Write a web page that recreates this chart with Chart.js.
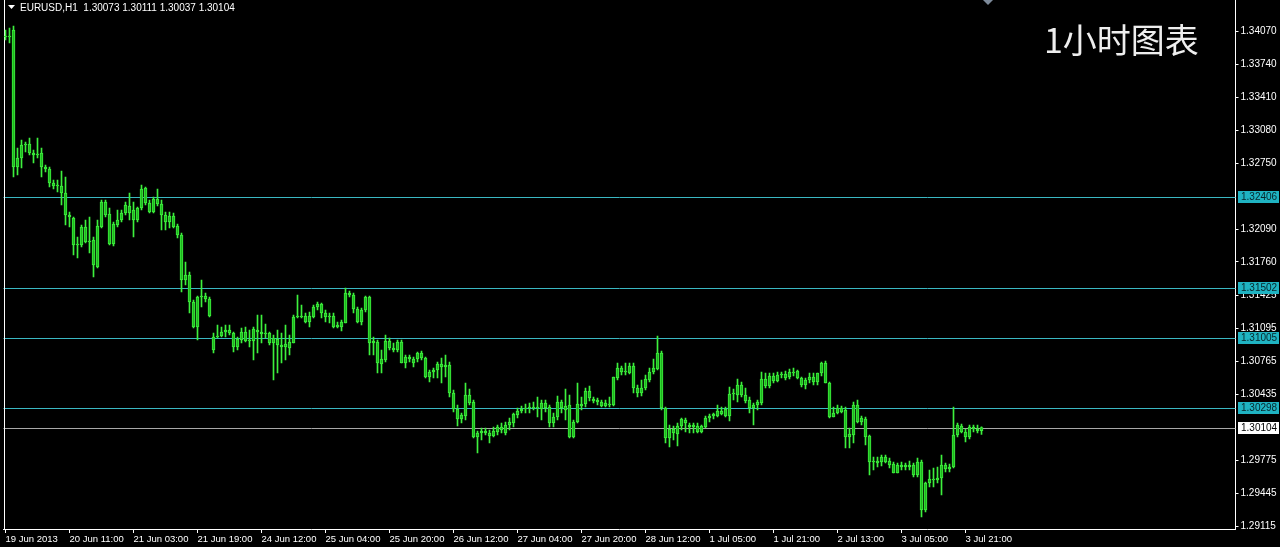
<!DOCTYPE html>
<html>
<head>
<meta charset="utf-8">
<style>
  html, body { margin: 0; padding: 0; background: #000; overflow: hidden; }
  canvas { display: block; }
</style>
<script src="https://cdn.jsdelivr.net/npm/chart.js@4.4.1/dist/chart.umd.min.js"></script>
</head>
<body>
<canvas id="chart" width="1280" height="547"></canvas>
<script>
'use strict';

//
// EURUSD H1 candles, 19 Jun 2013 19:00 .. 4 Jul 2013 01:00
//

var opens = [
  1.3402,1.3401,1.3408,1.3271,1.3280,1.3293,1.3294,1.3285,1.3283,1.3285,
  1.3271,1.3269,1.3255,1.3252,1.3252,1.3245,1.3223,1.3220,1.3193,1.3193,
  1.3211,1.3196,1.3198,1.3171,1.3211,1.3236,1.3224,1.3194,1.3213,1.3218,
  1.3225,1.3232,1.3228,1.3218,1.3230,1.3250,1.3235,1.3226,1.3239,1.3234,
  1.3223,1.3216,1.3222,1.3212,1.3203,1.3158,1.3163,1.3136,1.3111,1.3141,
  1.3142,1.3139,1.3101,1.3101,1.3102,1.3106,1.3108,1.3105,1.3091,1.3098,
  1.3106,1.3097,1.3097,1.3108,1.3106,1.3104,1.3105,1.3095,1.3099,1.3093,
  1.3091,1.3090,1.3095,1.3121,1.3122,1.3122,1.3116,1.3121,1.3131,1.3134,
  1.3125,1.3121,1.3122,1.3111,1.3111,1.3115,1.3145,1.3143,1.3129,1.3116,
  1.3128,1.3141,1.3095,1.3096,1.3074,1.3078,1.3097,1.3090,1.3088,1.3096,
  1.3075,1.3081,1.3079,1.3079,1.3085,1.3080,1.3061,1.3066,1.3068,1.3074,
  1.3071,1.3073,1.3045,1.3029,1.3019,1.3022,1.3043,1.3036,1.3001,1.3005,
  1.3007,1.3005,1.3002,1.3006,1.3011,1.3005,1.3013,1.3015,1.3023,1.3027,
  1.3029,1.3030,1.3031,1.3030,1.3029,1.3035,1.3031,1.3015,1.3021,1.3036,
  1.3032,1.3033,1.3001,1.3016,1.3034,1.3034,1.3047,1.3039,1.3038,1.3036,
  1.3032,1.3034,1.3033,1.3060,1.3070,1.3066,1.3065,1.3072,1.3050,1.3045,
  1.3050,1.3058,1.3066,1.3069,1.3085,1.3030,1.3000,1.3009,1.3004,1.3012,
  1.3018,1.3013,1.3011,1.3012,1.3006,1.3011,1.3020,1.3022,1.3022,1.3027,
  1.3029,1.3022,1.3044,1.3043,1.3053,1.3043,1.3038,1.3030,1.3033,1.3035,
  1.3059,1.3052,1.3062,1.3057,1.3063,1.3064,1.3061,1.3066,1.3067,1.3060,
  1.3053,1.3058,1.3061,1.3056,1.3065,1.3075,1.3055,1.3021,1.3025,1.3030,
  1.3028,1.3001,1.3003,1.3033,1.3016,1.3019,1.3002,1.2976,1.2977,1.2976,
  1.2981,1.2977,1.2974,1.2965,1.2973,1.2971,1.2973,1.2973,1.2963,1.2976,
  1.2928,1.2955,1.2959,1.2958,1.2960,1.2973,1.2969,1.2971,1.3003,1.3012,
  1.3006,1.3001,1.3011,1.3009,1.30073
];

var highs = [
  1.3408,1.3410,1.3412,1.3290,1.3298,1.3296,1.3300,1.3288,1.3300,1.3290,
  1.3273,1.3271,1.3258,1.3258,1.3267,1.3261,1.3226,1.3221,1.3201,1.3213,
  1.3218,1.3221,1.3201,1.3218,1.3238,1.3238,1.3230,1.3216,1.3228,1.3228,
  1.3236,1.3245,1.3236,1.3231,1.3253,1.3251,1.3238,1.3241,1.3249,1.3238,
  1.3226,1.3226,1.3225,1.3214,1.3205,1.3176,1.3166,1.3138,1.3142,1.3158,
  1.3145,1.3141,1.3105,1.3113,1.3111,1.3113,1.3113,1.3106,1.3101,1.3110,
  1.3111,1.3108,1.3111,1.3123,1.3123,1.3114,1.3106,1.3103,1.3108,1.3105,
  1.3113,1.3103,1.3123,1.3143,1.3133,1.3125,1.3126,1.3133,1.3136,1.3135,
  1.3128,1.3125,1.3125,1.3116,1.3118,1.3150,1.3147,1.3145,1.3131,1.3130,
  1.3142,1.3142,1.3101,1.3098,1.3088,1.3103,1.3100,1.3095,1.3098,1.3098,
  1.3083,1.3083,1.3081,1.3086,1.3087,1.3081,1.3068,1.3070,1.3076,1.3080,
  1.3083,1.3076,1.3048,1.3033,1.3025,1.3055,1.3049,1.3038,1.3007,1.3010,
  1.3010,1.3008,1.3011,1.3013,1.3015,1.3016,1.3020,1.3025,1.3030,1.3032,
  1.3034,1.3035,1.3036,1.3041,1.3038,1.3038,1.3033,1.3025,1.3042,1.3038,
  1.3049,1.3043,1.3018,1.3055,1.3041,1.3050,1.3052,1.3041,1.3040,1.3038,
  1.3038,1.3041,1.3061,1.3075,1.3072,1.3075,1.3075,1.3075,1.3053,1.3058,
  1.3063,1.3070,1.3079,1.3102,1.3087,1.3031,1.3013,1.3012,1.3015,1.3020,
  1.3020,1.3015,1.3015,1.3015,1.3013,1.3022,1.3024,1.3025,1.3033,1.3031,
  1.3031,1.3051,1.3049,1.3059,1.3056,1.3050,1.3041,1.3035,1.3038,1.3066,
  1.3065,1.3065,1.3065,1.3066,1.3066,1.3067,1.3069,1.3070,1.3068,1.3061,
  1.3060,1.3065,1.3065,1.3065,1.3076,1.3077,1.3056,1.3031,1.3033,1.3032,
  1.3031,1.3010,1.3036,1.3038,1.3022,1.3021,1.3003,1.2981,1.2981,1.2983,
  1.2983,1.2980,1.2976,1.2975,1.2976,1.2975,1.2977,1.2975,1.2980,1.2978,
  1.2956,1.2968,1.2970,1.2971,1.2983,1.2975,1.2974,1.3031,1.3015,1.3014,
  1.3009,1.3013,1.3013,1.3013,1.30111
];

var lows = [
  1.3398,1.3395,1.3261,1.3263,1.3270,1.3286,1.3283,1.3275,1.3280,1.3261,
  1.3266,1.3251,1.3249,1.3246,1.3233,1.3213,1.3211,1.3183,1.3180,1.3191,
  1.3195,1.3185,1.3161,1.3170,1.3210,1.3221,1.3193,1.3192,1.3211,1.3216,
  1.3223,1.3218,1.3201,1.3216,1.3228,1.3233,1.3225,1.3225,1.3232,1.3208,
  1.3208,1.3210,1.3210,1.3200,1.3146,1.3153,1.3125,1.3110,1.3098,1.3131,
  1.3136,1.3121,1.3085,1.3100,1.3101,1.3101,1.3103,1.3086,1.3088,1.3095,
  1.3096,1.3091,1.3078,1.3085,1.3095,1.3100,1.3093,1.3058,1.3065,1.3075,
  1.3078,1.3083,1.3095,1.3120,1.3120,1.3115,1.3111,1.3120,1.3128,1.3120,
  1.3116,1.3115,1.3110,1.3110,1.3107,1.3115,1.3141,1.3125,1.3115,1.3113,
  1.3126,1.3083,1.3083,1.3065,1.3065,1.3076,1.3088,1.3086,1.3086,1.3075,
  1.3070,1.3076,1.3071,1.3076,1.3078,1.3060,1.3056,1.3060,1.3060,1.3055,
  1.3061,1.3041,1.3026,1.3012,1.3015,1.3018,1.3033,1.3000,1.2985,1.2998,
  1.3003,1.2995,1.3001,1.3003,1.3005,1.3003,1.3008,1.3011,1.3020,1.3025,
  1.3025,1.3025,1.3028,1.3021,1.3018,1.3026,1.3011,1.3011,1.3018,1.3025,
  1.3018,1.3000,1.3000,1.3015,1.3028,1.3031,1.3037,1.3035,1.3033,1.3031,
  1.3031,1.3031,1.3032,1.3058,1.3063,1.3063,1.3064,1.3045,1.3041,1.3042,
  1.3048,1.3056,1.3064,1.3068,1.3028,1.2995,1.2991,1.2998,1.2992,1.3008,
  1.3006,1.3005,1.3005,1.3005,1.3005,1.3010,1.3016,1.3019,1.3021,1.3023,
  1.3021,1.3017,1.3038,1.3036,1.3041,1.3035,1.3025,1.3013,1.3028,1.3033,
  1.3050,1.3050,1.3055,1.3056,1.3060,1.3058,1.3059,1.3062,1.3059,1.3051,
  1.3049,1.3055,1.3053,1.3053,1.3062,1.3055,1.3020,1.3021,1.3024,1.3025,
  1.2990,1.2990,1.2995,1.3015,1.3013,1.2993,1.2963,1.2968,1.2971,1.2972,
  1.2975,1.2970,1.2965,1.2965,1.2968,1.2968,1.2968,1.2961,1.2961,1.2921,
  1.2926,1.2951,1.2951,1.2955,1.2943,1.2966,1.2966,1.2970,1.3001,1.3005,
  1.2996,1.2999,1.3006,1.3005,1.30037
];

var closes = [
  1.3401,1.3402,1.3271,1.3280,1.3293,1.3294,1.3285,1.3283,1.3284,1.3271,
  1.3269,1.3255,1.3252,1.3253,1.3245,1.3223,1.3221,1.3193,1.3194,1.3211,
  1.3196,1.3197,1.3173,1.3212,1.3236,1.3223,1.3194,1.3214,1.3218,1.3225,
  1.3233,1.3225,1.3218,1.3230,1.3249,1.3235,1.3226,1.3239,1.3234,1.3223,
  1.3216,1.3222,1.3211,1.3203,1.3158,1.3163,1.3136,1.3111,1.3141,1.3142,
  1.3139,1.3122,1.3088,1.3102,1.3106,1.3108,1.3105,1.3091,1.3099,1.3106,
  1.3097,1.3098,1.3109,1.3106,1.3104,1.3105,1.3095,1.3100,1.3093,1.3091,
  1.3094,1.3096,1.3121,1.3122,1.3121,1.3116,1.3122,1.3131,1.3134,1.3125,
  1.3121,1.3122,1.3111,1.3113,1.3116,1.3145,1.3143,1.3129,1.3116,1.3128,
  1.3141,1.3095,1.3097,1.3075,1.3079,1.3097,1.3090,1.3088,1.3096,1.3075,
  1.3081,1.3079,1.3075,1.3085,1.3080,1.3061,1.3066,1.3068,1.3074,1.3071,
  1.3073,1.3045,1.3029,1.3019,1.3023,1.3043,1.3035,1.3001,1.3005,1.3007,
  1.3005,1.3002,1.3007,1.3011,1.3008,1.3013,1.3016,1.3024,1.3027,1.3029,
  1.3030,1.3031,1.3030,1.3031,1.3035,1.3030,1.3015,1.3021,1.3036,1.3030,
  1.3028,1.3001,1.3016,1.3034,1.3032,1.3047,1.3040,1.3037,1.3036,1.3032,
  1.3035,1.3033,1.3061,1.3070,1.3066,1.3067,1.3072,1.3050,1.3045,1.3050,
  1.3059,1.3066,1.3070,1.3085,1.3030,1.3000,1.3009,1.3005,1.3012,1.3019,
  1.3015,1.3011,1.3013,1.3006,1.3012,1.3020,1.3022,1.3024,1.3027,1.3024,
  1.3022,1.3044,1.3045,1.3053,1.3043,1.3037,1.3030,1.3033,1.3036,1.3059,
  1.3052,1.3062,1.3057,1.3063,1.3064,1.3060,1.3066,1.3065,1.3060,1.3053,
  1.3058,1.3061,1.3056,1.3065,1.3075,1.3055,1.3021,1.3025,1.3030,1.3026,
  1.3001,1.3004,1.3033,1.3016,1.3020,1.3001,1.2976,1.2977,1.2975,1.2981,
  1.2976,1.2973,1.2965,1.2973,1.2971,1.2973,1.2971,1.2963,1.2976,1.2928,
  1.2955,1.2959,1.2958,1.2960,1.2973,1.2969,1.2971,1.3003,1.3013,1.3006,
  1.3001,1.3011,1.3009,1.3007,1.30104
];

// one label every 16 bars
var tickLabels = [
  '19 Jun 2013', '20 Jun 11:00', '21 Jun 03:00', '21 Jun 19:00',
  '24 Jun 12:00', '25 Jun 04:00', '25 Jun 20:00', '26 Jun 12:00',
  '27 Jun 04:00', '27 Jun 20:00', '28 Jun 12:00', '1 Jul 05:00',
  '1 Jul 21:00', '2 Jul 13:00', '3 Jul 05:00', '3 Jul 21:00'
];
var labelEvery = 16;

var priceTicks = [
  1.34070, 1.33740, 1.33410, 1.33080, 1.32750, 1.32090, 1.31760,
  1.31425, 1.31095, 1.30765, 1.30435, 1.29775, 1.29445, 1.29115
];

var levelLines = [1.32406, 1.31502, 1.31005, 1.30298];
var bidPrice = 1.30104;

var symbolText = 'EURUSD,H1  1.30073 1.30111 1.30037 1.30104';
var caption = '1小时图表';

var barSlots = 308;   // visible slots incl. the empty shift area on the right

var FONT = '"Liberation Sans", Arial, sans-serif';
var CANDLE = '#3df03d';
var LEVEL = '#3ab7c2';

var slots = [];
for (var i = 0; i < barSlots; i++) slots.push(i);

var mt4Plugin = {
  id: 'mt4',
  beforeDraw: function(chart) {
    var ctx = chart.ctx;
    ctx.save();
    ctx.fillStyle = '#000';
    ctx.fillRect(0, 0, chart.width, chart.height);
    ctx.restore();
  },
  beforeDatasetsDraw: function(chart) {
    var ctx = chart.ctx, a = chart.chartArea, y = chart.scales.y;
    ctx.save();
    ctx.lineWidth = 1;
    levelLines.forEach(function(v) {
      var py = Math.round(y.getPixelForValue(v)) + 0.5;
      ctx.strokeStyle = LEVEL;
      ctx.beginPath(); ctx.moveTo(a.left, py); ctx.lineTo(a.right, py); ctx.stroke();
    });
    var by = Math.round(y.getPixelForValue(bidPrice)) + 0.5;
    ctx.strokeStyle = '#a8a8a8';
    ctx.beginPath(); ctx.moveTo(a.left, by); ctx.lineTo(a.right, by); ctx.stroke();
    // left frame
    ctx.fillStyle = '#fff';
    ctx.fillRect(Math.round(a.left), a.top, 1, a.bottom - a.top);
    ctx.restore();
  },
  afterDraw: function(chart) {
    var ctx = chart.ctx, a = chart.chartArea, y = chart.scales.y;
    var bx = Math.round(a.right) + 2;
    ctx.save();
    ctx.font = '10px ' + FONT;
    ctx.textBaseline = 'middle';
    ctx.textAlign = 'left';
    levelLines.forEach(function(v) {
      var py = Math.round(y.getPixelForValue(v));
      ctx.fillStyle = '#1fb3c2';
      ctx.fillRect(bx, py - 6, 41, 12);
      ctx.fillStyle = '#07262b';
      ctx.fillText(v.toFixed(5), bx + 3, py + 0.5);
    });
    var by = Math.round(y.getPixelForValue(bidPrice));
    ctx.fillStyle = '#fff';
    ctx.fillRect(bx, by - 6, 41, 12);
    ctx.fillStyle = '#000';
    ctx.fillText(bidPrice.toFixed(5), bx + 3, by + 0.5);

    // symbol line, top left
    ctx.fillStyle = '#fff';
    ctx.beginPath();
    ctx.moveTo(8, 5); ctx.lineTo(15, 5); ctx.lineTo(11.5, 9); ctx.closePath();
    ctx.fill();
    ctx.font = '10px ' + FONT;
    ctx.fillText(symbolText, 20, 8);

    // chart shift marker
    ctx.fillStyle = '#7d8a9a';
    ctx.beginPath();
    ctx.moveTo(983, 0); ctx.lineTo(993, 0); ctx.lineTo(988, 5); ctx.closePath();
    ctx.fill();

    // caption
    ctx.fillStyle = '#eeeeee';
    ctx.font = '34px "Noto Sans CJK SC", sans-serif';
    ctx.textBaseline = 'alphabetic';
    ctx.fillText(caption, 1044, 53);
    ctx.restore();
  }
};

var ctx = document.getElementById('chart').getContext('2d');
var chart = new Chart(ctx, {
  type: 'bar',
  data: {
    labels: slots,
    datasets: [{
      label: 'body',
      data: opens.map(function(o, i) { return [o, closes[i]]; }),
      backgroundColor: '#1fb51f',
      borderColor: CANDLE,
      borderWidth: 1,
      borderSkipped: false,
      barThickness: 3,
      minBarLength: 1,
      grouped: false
    }, {
      label: 'wick',
      data: lows.map(function(l, i) { return [l, highs[i]]; }),
      backgroundColor: CANDLE,
      borderWidth: 0,
      barThickness: 1,
      grouped: false
    }]
  },
  options: {
    responsive: false,
    animation: false,
    events: [],
    layout: { padding: { left: 3.5, top: 0, right: 0, bottom: 0 } },
    plugins: {
      legend: { display: false },
      tooltip: { enabled: false },
      title: { display: false }
    },
    scales: {
      x: {
        type: 'category',
        offset: true,
        border: { color: '#fff', width: 1 },
        grid: {
          offset: false,
          drawOnChartArea: false,
          drawTicks: true,
          tickLength: 4,
          tickColor: function(c) {
            return (c.index % labelEvery === 0 && c.index / labelEvery < tickLabels.length) ? '#fff' : 'rgba(0,0,0,0)';
          }
        },
        ticks: {
          autoSkip: false,
          maxRotation: 0,
          minRotation: 0,
          align: 'start',
          padding: 1,
          color: '#fff',
          font: { family: FONT, size: 9.5 },
          callback: function(v, idx) {
            if (idx % labelEvery !== 0) return '';
            return tickLabels[idx / labelEvery] || '';
          }
        },
        afterFit: function(s) {
          s.height = 18;
          s.paddingLeft = 0;
          s.paddingRight = 0;
        }
      },
      y: {
        type: 'linear',
        position: 'right',
        min: 1.2909,
        max: 1.3438,
        border: { color: '#fff', width: 1 },
        grid: { drawOnChartArea: false, tickLength: 3, tickColor: '#fff' },
        ticks: {
          padding: 2,
          color: '#fff',
          font: { family: FONT, size: 10 },
          callback: function(v) { return v.toFixed(5); }
        },
        afterBuildTicks: function(s) {
          s.ticks = priceTicks.map(function(v) { return { value: v }; });
        },
        afterFit: function(s) {
          s.width = 44.5;
          s.paddingTop = 0;
          s.paddingBottom = 0;
        }
      }
    }
  },
  plugins: [mt4Plugin]
});
</script>
</body>
</html>
